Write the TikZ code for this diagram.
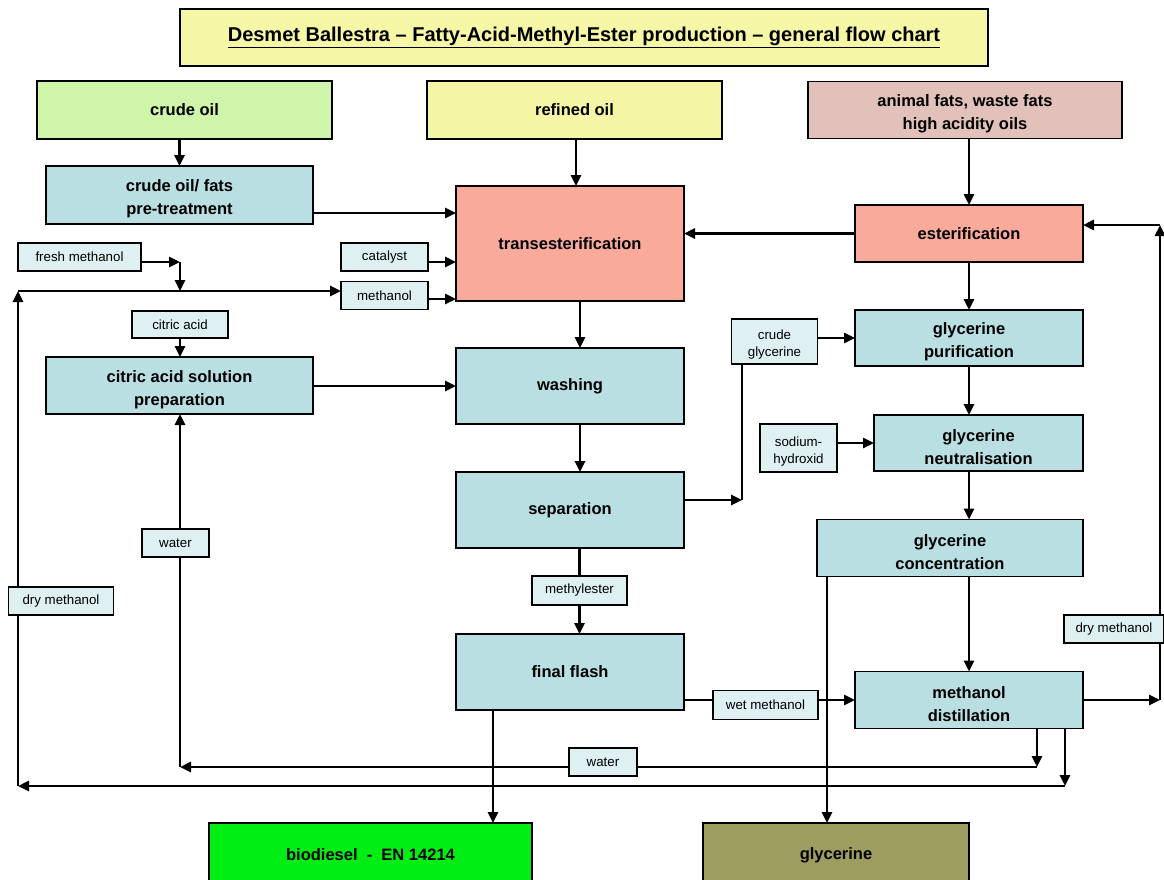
\documentclass[tikz,border=0pt]{standalone}
\usepackage{fontspec}
\setmainfont{Liberation Sans}
\usetikzlibrary{arrows.meta}
\pgfdeclarelayer{paper}
\pgfdeclarelayer{bg}
\pgfsetlayers{paper,bg,main}
\definecolor{titleC}{HTML}{F5F7A6}
\definecolor{crudeC}{HTML}{CEF5AA}
\definecolor{refC}{HTML}{F4F6A6}
\definecolor{animC}{HTML}{E1C1B9}
\definecolor{salmonC}{HTML}{FAAA9B}
\definecolor{procC}{HTML}{B9DFE2}
\definecolor{lblC}{HTML}{DEF0F2}
\definecolor{bioC}{HTML}{00EE14}
\definecolor{glyC}{HTML}{9D9D5F}
\newcommand{\mystrutB}{\rule{0pt}{20pt}}
\newcommand{\mystrutS}{\rule{0pt}{16pt}}
\tikzset{
  base/.style={draw=black, line width=1.5pt, inner sep=0pt, outer sep=0pt, align=center, text=black},
  big/.style={base, font=\fontsize{16.5}{23}\selectfont\bfseries},
  proc/.style={big, fill=procC},
  lbl/.style={base, line width=1.2pt, fill=lblC, font=\fontsize{13.3}{17}\selectfont},
  arr/.style={line width=2.6pt, -{Triangle[length=11pt,width=10pt]}},
  ln/.style={line width=2.6pt},
  thinln/.style={line width=1.2pt},
}
\begin{document}
\begin{tikzpicture}[x=1pt,y=-1pt]
\useasboundingbox (0,0) rectangle (1164,879);
\begin{pgfonlayer}{paper}
\fill[white] (0,0) rectangle (1164,879);
\end{pgfonlayer}
% nodes
\node[base, fill=titleC, minimum width=808pt, minimum height=57pt, font=\fontsize{20}{24}\selectfont\bfseries] (title) at (584,37.5) {\underline{Desmet Ballestra – Fatty-Acid-Methyl-Ester production – general flow chart}};
\node[big, fill=crudeC, minimum width=295pt, minimum height=58pt] (crude) at (184.5,110) {crude oil};
\node[big, fill=refC, minimum width=295pt, minimum height=58pt] (refined) at (574.5,110) {refined oil};
\node[big, fill=animC, minimum width=314pt, minimum height=57pt] (animal) at (965,110) {\mystrutB animal fats, waste fats\\high acidity oils};
\node[proc, minimum width=267pt, minimum height=58pt] (pretreat) at (179.5,195) {\mystrutB crude oil/ fats\\pre-treatment};
\node[big, fill=salmonC, minimum width=228pt, minimum height=115pt] (trans) at (570,243.5) {transesterification};
\node[big, fill=salmonC, minimum width=228pt, minimum height=57pt] (ester) at (969,233.5) {esterification};
\node[lbl, minimum width=123pt, minimum height=28pt] (fresh) at (79.5,257) {fresh methanol};
\node[lbl, minimum width=87pt, minimum height=28pt] (catalyst) at (384.5,257) {catalyst};
\node[lbl, minimum width=87pt, minimum height=28pt] (methL) at (384.5,295.5) {methanol};
\node[lbl, minimum width=96pt, minimum height=27pt] (citric) at (180,324.5) {citric acid};
\node[proc, minimum width=267pt, minimum height=57pt] (citprep) at (179.5,385.5) {\mystrutB citric acid solution\\preparation};
\node[proc, minimum width=228pt, minimum height=76pt] (washing) at (570,386) {washing};
\node[lbl, minimum width=86pt, minimum height=45pt] (crudegly) at (774.5,341.5) {\mystrutS crude\\glycerine};
\node[proc, minimum width=228pt, minimum height=56pt] (purif) at (969,338) {\mystrutB glycerine\\purification};
\node[lbl, minimum width=77pt, minimum height=48pt] (naoh) at (798.5,448) {\mystrutS sodium-\\hydroxid};
\node[proc, minimum width=209pt, minimum height=56pt] (neutral) at (978.5,443) {\mystrutB glycerine\\neutralisation};
\node[proc, minimum width=228pt, minimum height=76pt] (separation) at (570,510) {separation};
\node[proc, minimum width=266pt, minimum height=57pt] (concentr) at (950,548) {\mystrutB glycerine\\concentration};
\node[lbl, minimum width=67pt, minimum height=28pt] (waterL) at (175.5,543) {water};
\node[lbl, minimum width=105pt, minimum height=28pt] (drymL) at (61,601) {dry methanol};
\node[lbl, minimum width=95pt, minimum height=29pt] (methylester) at (579.5,590.5) {methylester};
\node[lbl, minimum width=100pt, minimum height=28pt] (drymR) at (1114,629) {dry methanol};
\node[proc, minimum width=228pt, minimum height=76pt] (finalflash) at (570,672) {final flash};
\node[lbl, minimum width=105pt, minimum height=29pt] (wetm) at (765.5,705) {wet methanol};
\node[proc, minimum width=228pt, minimum height=57pt] (distill) at (969,700) {\mystrutB methanol\\distillation};
\node[lbl, minimum width=68pt, minimum height=28pt] (waterB) at (603,762) {water};
\node[big, fill=bioC, minimum width=323pt, minimum height=64pt] (biodiesel) at (370.5,855) {biodiesel\ \ -\ \ EN 14214};
\node[big, fill=glyC, minimum width=266pt, minimum height=64pt] (glycerine) at (836,855) {glycerine};
% junction coordinates
\coordinate (fj) at (180,262);
\coordinate (mj) at (180,291);
\coordinate (ul) at (18,291);
\coordinate (dl) at (18,786);
\coordinate (dr) at (1065,786);
\coordinate (wr) at (1037,767);
\coordinate (wl) at (180,767);
\coordinate (cg) at (742,500);
\coordinate (rr) at (1160,700);
\coordinate (ru) at (1160,225);
\begin{pgfonlayer}{bg}
\draw[arr] (crude.south -| pretreat.north) -- (pretreat.north);
\draw[arr] (refined.south -| 576,0) -- (trans.north -| 576,0);
\draw[arr] (animal.south -| 969,0) -- (ester.north -| 969,0);
\draw[arr] (pretreat.east |- 0,213) -- (trans.west |- 0,213);
\draw[arr] (ester.west) -- (trans.east |- ester.west);
\draw[arr] (catalyst.east |- 0,262) -- (trans.west |- 0,262);
\draw[arr] (methL.east |- 0,299) -- (trans.west |- 0,299);
\draw[arr] (fresh.east |- fj) -- (fj);
\draw[arr] (fj) -- (mj);
\draw[arr] (dl) -- (ul);
\draw[arr] (ul) -- (methL.west |- ul);
\draw[arr] (citric.south) -- (citprep.north -| citric.south);
\draw[arr] (citprep.east |- 0,386) -- (washing.west |- 0,386);
\draw[arr] (trans.south -| 580,0) -- (washing.north -| 580,0);
\draw[arr] (washing.south -| 580,0) -- (separation.north -| 580,0);
\draw[ln] (separation.south -| methylester.north) -- (methylester.north);
\draw[arr] (methylester.south) -- (finalflash.north -| methylester.south);
\draw[arr] (separation.east |- cg) -- (cg);
\draw[thinln] (cg) -- (crudegly.south -| cg);
\draw[arr] (crudegly.east |- purif.west) -- (purif.west);
\draw[arr] (ester.south) -- (purif.north);
\draw[arr] (purif.south) -- (neutral.north -| purif.south);
\draw[arr] (naoh.east |- neutral.west) -- (neutral.west);
\draw[arr] (neutral.south -| purif.south) -- (concentr.north -| purif.south);
\draw[arr] (concentr.south -| distill.north) -- (distill.north);
\draw[arr] (concentr.south -| 827,0) -- (glycerine.north -| 827,0);
\draw[arr] (finalflash.east |- distill.west) -- (distill.west);
\draw[arr] (finalflash.south -| 493,0) -- (biodiesel.north -| 493,0);
\draw[arr] (distill.east) -- (rr);
\draw[arr] (rr) -- (ru);
\draw[arr] (ru) -- (ester.east |- ru);
\draw[arr] (distill.south -| wr) -- (wr);
\draw[arr] (wr) -- (wl);
\draw[arr] (wl) -- (citprep.south -| wl);
\draw[arr] (distill.south -| dr) -- (dr);
\draw[arr] (dr) -- (dl);
\end{pgfonlayer}
\end{tikzpicture}
\end{document}
